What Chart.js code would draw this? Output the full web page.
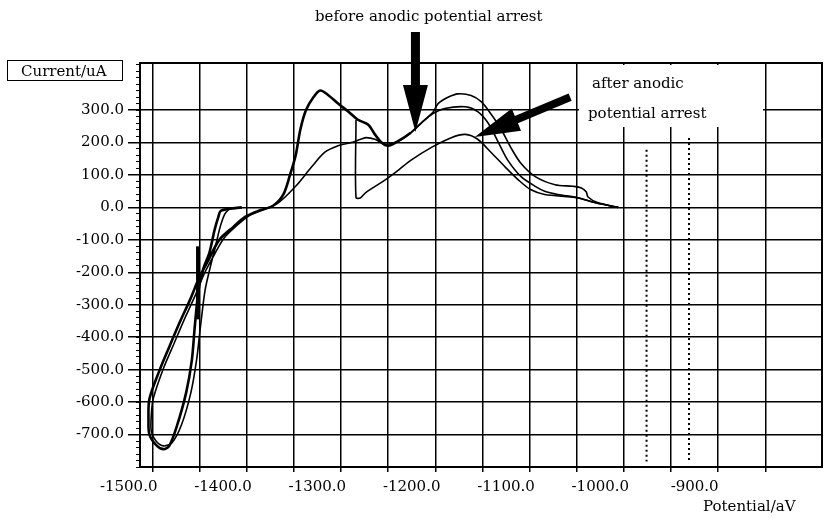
<!DOCTYPE html>
<html>
<head>
<meta charset="utf-8">
<script src="https://cdn.jsdelivr.net/npm/chart.js@4.4.1/dist/chart.umd.min.js"></script>
<style>
  html, body { margin: 0; padding: 0; background: #fff; }
  #wrap { width: 824px; height: 518px; position: relative; }
</style>
</head>
<body>
<div id="wrap"><canvas id="cv"></canvas></div>
<script>
/* ================= DATA ================= */
// potential (aV) / current (uA)
const beforePotential = [-1380, -1402, -1405, -1409, -1412, -1415, -1421, -1426, -1430, -1433, -1439, -1449, -1457, -1463, -1470, -1478, -1479, -1478, -1467, -1457, -1446, -1435, -1425, -1415, -1404, -1389, -1377, -1362, -1347, -1336, -1329, -1323, -1318, -1312, -1304, -1297, -1288, -1278, -1267, -1257, -1246, -1239, -1232, -1225, -1214, -1201, -1188, -1177, -1165, -1143, -1130, -1119, -1108, -1098, -1084, -1069, -1059, -1045, -1024, -1006, -981];
const beforeCurrent   = [0, -10, -30, -70, -110, -145, -190, -255, -370, -470, -570, -675, -735, -745, -735, -700, -655, -590, -500, -430, -355, -285, -215, -160, -100, -60, -30, -10, 5, 40, 100, 160, 240, 300, 340, 360, 345, 320, 295, 270, 255, 225, 200, 190, 205, 230, 265, 290, 305, 310, 295, 260, 200, 145, 95, 65, 50, 40, 30, 15, 0];

const cyclePotential = [-1392, -1398, -1403, -1408, -1414, -1419, -1424, -1428, -1434, -1444, -1454, -1463, -1471, -1476, -1476, -1474, -1463, -1452, -1441, -1430, -1420, -1410, -1399, -1385, -1372, -1358, -1341, -1323, -1306, -1292, -1278, -1264, -1254, -1248, -1239, -1228, -1214, -1201, -1188, -1177, -1172, -1161, -1151, -1137, -1126, -1114, -1105, -1095, -1084, -1069, -1048, -1029, -1020, -1015, -1013, -1003, -981];
const cycleCurrent   = [0, -20, -60, -120, -190, -255, -370, -470, -570, -670, -725, -735, -720, -690, -640, -590, -495, -420, -345, -275, -205, -150, -95, -55, -25, -8, 15, 65, 125, 170, 190, 200, 210, 215, 210, 195, 205, 230, 265, 295, 320, 340, 350, 345, 325, 280, 240, 185, 135, 95, 70, 65, 60, 48, 32, 15, 0];

const afterPotential = [-1259, -1259, -1254, -1249, -1228, -1214, -1201, -1179, -1158, -1143, -1130, -1116, -1101, -1087, -1074, -1059, -1024, -1006, -981];
const afterCurrent   = [270, 30, 30, 45, 85, 115, 145, 185, 215, 225, 210, 170, 125, 85, 55, 40, 30, 15, 0];

const stepPotential = [-1427, -1427];
const stepCurrent   = [-120, -345];

const markerPotential = [-951, -906];
const markerTop       = [178, 214];
const markerBottom    = [-783, -786];

// the "before" scan is drawn heavy up to the arrow point, thin after it
const beforeThinFrom = beforePotential.indexOf(-1201);

const xLabelTicks = [-1500, -1400, -1300, -1200, -1100, -1000, -900];
const xGridTicks  = [-1475, -1425, -1375, -1325, -1275, -1225, -1175, -1125, -1075, -1025, -975, -925, -875, -825];
const yLabelTicks = [300, 200, 100, 0, -100, -200, -300, -400, -500, -600, -700];
const yMinorTicks = [];
for (let v = -800; v <= 440; v += 20) yMinorTicks.push(v);

const X_MIN = -1488, X_MAX = -765;
const Y_MIN = -800,  Y_MAX = 445;

/* ================= HELPERS ================= */
function zip(xs, ys) {
    return xs.map((x, i) => ({ x: x, y: ys[i] }));
}

function curve(xs, ys, width) {
    return {
        data: zip(xs, ys),
        showLine: true,
        borderColor: "#000",
        borderWidth: width,
        pointRadius: 0,
        tension: 0.3
    };
}

function drawArrow(ctx, x0, y0, x1, y1, shaftW, headL, headW) {
    const len = Math.hypot(x1 - x0, y1 - y0);
    const ux = (x1 - x0) / len, uy = (y1 - y0) / len;
    const px = -uy, py = ux;
    const bx = x1 - ux * headL, by = y1 - uy * headL;
    ctx.beginPath();
    ctx.moveTo(x0 + px * shaftW / 2, y0 + py * shaftW / 2);
    ctx.lineTo(bx + px * shaftW / 2, by + py * shaftW / 2);
    ctx.lineTo(bx + px * headW / 2, by + py * headW / 2);
    ctx.lineTo(x1, y1);
    ctx.lineTo(bx - px * headW / 2, by - py * headW / 2);
    ctx.lineTo(bx - px * shaftW / 2, by - py * shaftW / 2);
    ctx.lineTo(x0 - px * shaftW / 2, y0 - py * shaftW / 2);
    ctx.closePath();
    ctx.fill();
}

const FONT = '15px "DejaVu Serif"';

/* ================= NOTES PLUGIN ================= */
const notesPlugin = {
    id: "notes",
    beforeDatasetsDraw(chart) {
        const ctx = chart.ctx;
        ctx.save();
        ctx.fillStyle = "#fff";
        ctx.fillRect(579, 65, 184, 62);
        ctx.restore();
    },
    afterDraw(chart) {
        const { ctx, chartArea: a, scales } = chart;
        const sx = v => scales.x.getPixelForValue(v);
        const sy = v => scales.y.getPixelForValue(v);

        ctx.save();
        ctx.strokeStyle = "#000";
        ctx.lineWidth = 2;
        ctx.strokeRect(a.left, a.top, a.right - a.left, a.bottom - a.top);

        ctx.fillStyle = "#000";
        ctx.font = FONT;
        ctx.textBaseline = "alphabetic";
        ctx.fillText("before anodic potential arrest", 315, 21);
        ctx.fillText("after anodic", 592, 88);
        ctx.fillText("potential arrest", 588, 118);
        ctx.fillText("Potential/aV", 703, 511);

        ctx.lineWidth = 1;
        ctx.strokeRect(7.5, 60.5, 115, 20);
        ctx.fillText("Current/uA", 21, 76);

        // arrows
        drawArrow(ctx, sx(-1196), 32, sx(-1196), sy(232), 9, 47, 25);
        drawArrow(ctx, sx(-1032), sy(340), sx(-1133), sy(217), 8, 45, 24);
        ctx.restore();
    }
};

/* ================= CHART ================= */
const beforeSet = curve(beforePotential, beforeCurrent, 2.6);
beforeSet.segment = {
    borderWidth: c => (c.p0DataIndex >= beforeThinFrom ? 1.6 : 2.6)
};

const datasets = [
    curve(cyclePotential, cycleCurrent, 1.6),
    curve(afterPotential, afterCurrent, 1.6),
    beforeSet,
    curve(stepPotential, stepCurrent, 3)
];

markerPotential.forEach((p, i) => {
    datasets.push({
        data: [{ x: p, y: markerTop[i] }, { x: p, y: markerBottom[i] }],
        showLine: true,
        borderColor: "#000",
        borderWidth: 2,
        borderDash: [2, 3],
        pointRadius: 0
    });
});

const tickFont = { family: "DejaVu Serif", size: 15 };

new Chart(document.getElementById("cv"), {
    type: "scatter",
    data: { datasets: datasets },
    options: {
        responsive: true,
        maintainAspectRatio: false,
        animation: false,
        layout: { padding: { top: 63, right: 2, left: 0, bottom: 0 } },
        plugins: {
            legend: { display: false },
            tooltip: { enabled: false }
        },
        scales: {
            x: {
                type: "linear",
                position: "bottom",
                weight: 1,
                min: X_MIN,
                max: X_MAX,
                afterBuildTicks: s => { s.ticks = xLabelTicks.map(v => ({ value: v })); },
                afterFit: s => { s.height = 51; },
                grid: { display: false, drawTicks: false },
                border: { display: false },
                ticks: {
                    autoSkip: false,
                    maxRotation: 0,
                    padding: 11,
                    color: "#000",
                    font: tickFont,
                    callback: v => Number(v).toFixed(1)
                }
            },
            xg: {
                type: "linear",
                position: "bottom",
                weight: 0,
                min: X_MIN,
                max: X_MAX,
                afterBuildTicks: s => { s.ticks = xGridTicks.map(v => ({ value: v })); },
                afterFit: s => { s.height = 0; },
                ticks: { display: false },
                grid: { color: "#000", lineWidth: 1.5, tickLength: 5 },
                border: { color: "#000", width: 2 }
            },
            y: {
                type: "linear",
                position: "left",
                weight: 1,
                min: Y_MIN,
                max: Y_MAX,
                afterBuildTicks: s => { s.ticks = yLabelTicks.map(v => ({ value: v })); },
                afterFit: s => { s.width = 140; },
                grid: { color: "#000", lineWidth: 1.5, tickLength: 12 },
                border: { color: "#000", width: 2 },
                ticks: {
                    padding: 4,
                    color: "#000",
                    font: tickFont,
                    callback: v => Number(v).toFixed(1)
                }
            },
            ym: {
                type: "linear",
                position: "left",
                weight: 0,
                min: Y_MIN,
                max: Y_MAX,
                afterBuildTicks: s => { s.ticks = yMinorTicks.map(v => ({ value: v })); },
                afterFit: s => { s.width = 0; },
                ticks: { display: false },
                grid: { drawOnChartArea: false, color: "#000", lineWidth: 1, tickLength: 4 },
                border: { display: false }
            }
        }
    },
    plugins: [notesPlugin]
});
</script>
</body>
</html>
